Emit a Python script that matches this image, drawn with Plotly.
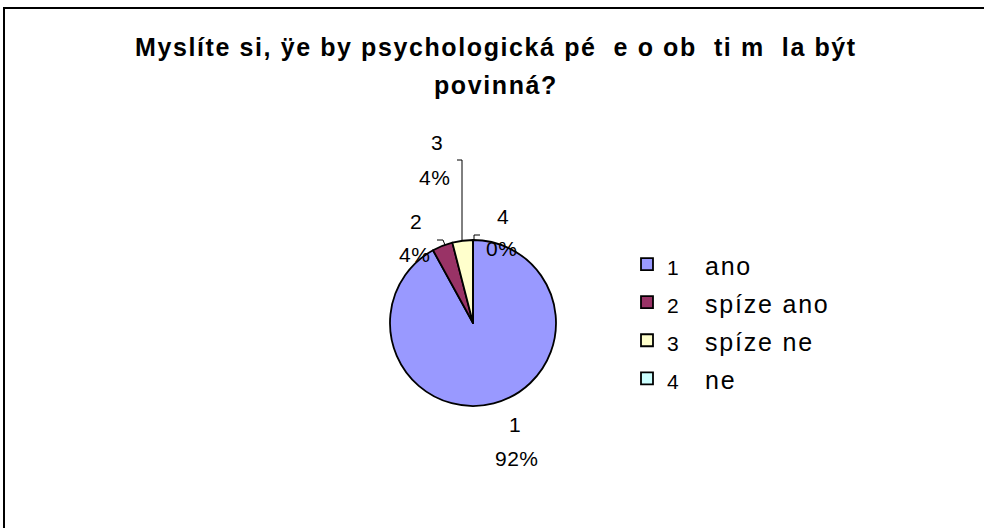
import plotly.graph_objects as go

# ---- data ----
categories = ["1", "2", "3", "4"]
category_names = ["ano", "spíze ano", "spíze ne", "ne"]
values = [23, 1, 1, 0]
colors = ["#9999FF", "#993366", "#FFFFCC", "#CCFFFF"]
title_line1 = "Myslíte si, ÿe by psychologická pé\u00a0\u00a0e o ob\u00a0\u00a0ti m\u00a0\u00a0la být"
title_line2 = "povinná?"

W, H = 984, 528
FONT = "Arial, Liberation Sans, Helvetica, sans-serif"


def px(x, y):
    return x / W, 1 - y / H


# pie geometry (pixels)
cx, cy, r = 473, 323, 83
x0, y_top = px(cx - r, cy - r)
x1, y_bot = px(cx + r, cy + r)

legend_labels = [
    f"<span style='font-size:21px'>{c}</span>"
    f"<span style='font-size:25px;letter-spacing:1.8px'>\u00a0\u00a0\u00a0{n}</span>"
    for c, n in zip(categories, category_names)
]

fig = go.Figure(
    go.Pie(
        labels=legend_labels,
        values=values,
        marker=dict(colors=colors, line=dict(color="black", width=1.8)),
        sort=False,
        direction="clockwise",
        rotation=0,
        textinfo="none",
        hoverinfo="label+percent",
        domain=dict(x=[x0, x1], y=[y_bot, y_top]),
    )
)

total = sum(values)
percents = [f"{round(v / total * 100)}%" for v in values]

# label positions in pixels (name line, percent line)
label_pos = [((515, 424), (517, 458)),
             ((416, 222), (414, 255)),
             ((437, 143), (434, 177)),
             ((503, 216), (501, 248))]

annotations = []
for cat, pct, (p1, p2) in zip(categories, percents, label_pos):
    for txt, p in ((cat, p1), (pct, p2)):
        ax_, ay_ = px(*p)
        annotations.append(dict(
            x=ax_, y=ay_, xref="paper", yref="paper", showarrow=False,
            text=f"<span style='letter-spacing:0.5px'>{txt}</span>",
            font=dict(family=FONT, size=21, color="black"),
            xanchor="center", yanchor="middle"))

for txt, y in ((title_line1, 47), (title_line2, 85)):
    tx, ty = px(496, y)
    annotations.append(dict(
        x=tx, y=ty, xref="paper", yref="paper", showarrow=False,
        text=f"<b><span style='letter-spacing:1.6px'>{txt}</span></b>",
        font=dict(family=FONT, size=25, color="black"),
        xanchor="center", yanchor="middle"))

# leader lines (pixels)
leaders = [
    [(437, 240), (443, 240), (445, 245)],
    [(457, 160), (462, 160), (462, 240)],
    [(474, 241), (474, 235), (480, 235)],
]
shapes = []
for pts in leaders:
    path = "M " + " L ".join(f"{px(*p)[0]},{px(*p)[1]}" for p in pts)
    shapes.append(dict(type="path", path=path, xref="paper", yref="paper",
                       line=dict(color="black", width=1)))

# chart frame
fx0, fy0 = px(4, 8)
shapes.append(dict(type="rect", xref="paper", yref="paper",
                   x0=fx0, y0=-0.02, x1=1.02, y1=fy0,
                   line=dict(color="black", width=2), fillcolor="rgba(0,0,0,0)"))

lx, ly = px(627, 240)
fig.update_layout(
    width=W, height=H,
    margin=dict(l=0, r=0, t=0, b=0),
    paper_bgcolor="white",
    plot_bgcolor="white",
    font=dict(family=FONT, color="black"),
    showlegend=True,
    legend=dict(x=lx, y=ly, xanchor="left", yanchor="top",
                font=dict(family=FONT, size=27, color="black"),
                bgcolor="rgba(0,0,0,0)"),
    annotations=annotations,
    shapes=shapes,
)

fig.write_html("out.html", config={"displayModeBar": False},
               post_script="document.body.style.margin='0px';")
